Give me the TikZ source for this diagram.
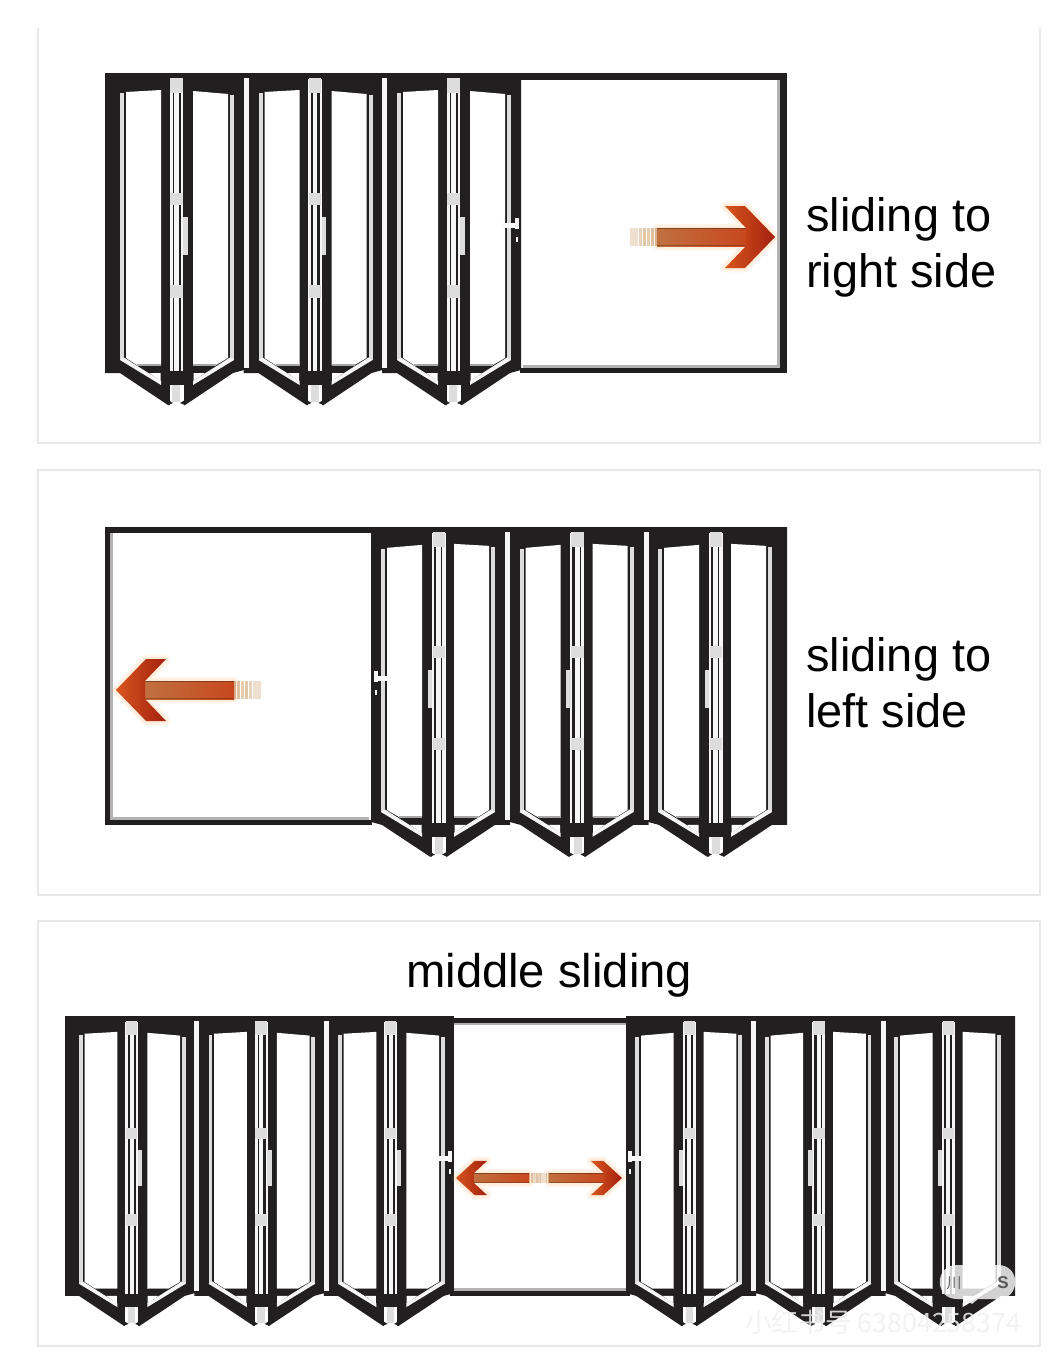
\documentclass[tikz,border=0pt]{standalone}
\usepackage{fontspec}
\setmainfont{Liberation Sans}
\newfontfamily\cjkwm{Noto Sans CJK SC}
\definecolor{frame}{HTML}{221F21}
\definecolor{panelline}{HTML}{E9E8E8}
\definecolor{strip}{HTML}{DDDDDD}
\definecolor{stripb}{HTML}{F6F6F6}
\definecolor{shaftA}{HTML}{C0703F}
\definecolor{shaftB}{HTML}{F08028}
\definecolor{shaftC}{HTML}{C8481E}
\definecolor{headA}{HTML}{D8551E}
\definecolor{headB}{HTML}{A3200F}
\definecolor{edgebrown}{HTML}{5E2A14}
\tikzset{
  panelrule/.style={draw=panelline,line width=1.2pt},
  darkfill/.style={fill=frame},
  glass/.style={fill=white},
  hingewhite/.style={fill=stripb},
  bigtext/.style={anchor=base west,inner sep=0pt,font=\fontsize{46.9}{56}\selectfont},
}
% one folded pair of leaves, local coordinates: width 139, height 300, V tip 332
\newcommand{\foldleaves}{%
  \fill[darkfill] (0,0) -- (139,0) -- (139,297) -- (128,300) -- (80,332) -- (63,332) -- (15,300) -- (0,300) -- cycle;
  % glass
  \fill[glass] (21,19) -- (56,17) -- (56,292) -- (32,292) -- (21,285) -- cycle;
  \fill[glass] (88,18) -- (123,21) -- (123,285) -- (111,292) -- (88,292) -- cycle;
  \fill[glass] (44,300) -- (55.5,300) -- (55.5,308) -- cycle;
  \fill[glass] (88.5,300) -- (100,300) -- (88.5,308) -- cycle;
  \fill[fill=black!35] (32,291) rectangle (56,293);
  \fill[fill=black!35] (88,291) rectangle (111,293);
  % glazing strips
  \fill[fill=strip] (15,20) rectangle (19,287);
  \fill[fill=strip] (125,22) rectangle (129,287);
  \fill[fill=stripb] (15,287) -- (19,284.5) -- (56,308) -- (56,312) -- cycle;
  \fill[fill=stripb] (129,287) -- (125,284.5) -- (88,308) -- (88,312) -- cycle;
  % hinge column
  \fill[hingewhite] (64.5,6) rectangle (67.7,298);
  \fill[hingewhite] (69,6) rectangle (73.7,298);
  \fill[hingewhite] (76.3,6) rectangle (78.3,298);
  \foreach \ya/\yb in {5/20,120/132,212/225}
    \fill[fill=strip] (65,\ya) rectangle (77.5,\yb);
  % white foot below the hinge bar
  \fill[fill=white] (64.5,312) -- (78.5,312) -- (78.5,332.5) -- (64.5,332.5) -- cycle;
  \fill[fill=strip] (67,312) rectangle (75,329);
  \fill[darkfill] (63,332) -- (68,330) -- (63,327) -- cycle;
  \fill[darkfill] (80,332) -- (75,330) -- (80,327) -- cycle;
  % slim pull handle
  \fill[fill=strip] (78,144) rectangle (82.5,182);
}
% the full three-pair group with separators and lever handle
\newcommand{\foldgroup}{%
  \foreach \k in {0,1,2}{%
    \begin{scope}[xshift=\k*138.5pt]\foldleaves\end{scope}}
  \foreach \sx in {138.5,277}
    \fill[fill=stripb] (\sx,5) rectangle (\sx+5,295);
  \fill[fill=stripb!70] (396,150) rectangle (410,155);
  \fill[fill=stripb] (409.5,145) rectangle (413.5,156);
  \fill[fill=white] (410.5,164) rectangle (412.5,169);
}
% arrow pointing +x with its tip at the local origin
\newcommand{\slidearrow}{%
  \foreach \w/\o in {9/.10,5/.14}
    \draw[draw=orange!60,opacity=\o,line width=\w pt,line join=round]
     (-30,-31) -- (-50,-31) -- (-29,-9) -- (-118,-9) -- (-118,9) -- (-29,9) -- (-50,31) -- (-30,31) -- (0,0) -- cycle;
  \foreach \a/\b/\c in {-145/-137/25,-136/-133/35,-132/-129/45,-128/-125/40,-124/-121/50,-120/-118/60}
    \fill[fill=brown!\c!white] (\a,-9) rectangle (\b,9);
  \shade[left color=shaftA,middle color=shaftB,right color=shaftC] (-118,-9) rectangle (-29,9);
  \fill[fill=edgebrown,opacity=.6] (-118,-9) rectangle (-29,-7.8);
  \fill[fill=edgebrown,opacity=.45] (-118,7.8) rectangle (-29,9);
  \shade[left color=headA,right color=headB]
     (-50,-31) -- (-30,-31) -- (0,0) -- (-30,31) -- (-50,31) -- (-29,9) -- (-29,-9) -- cycle;
}
\begin{document}
\begin{tikzpicture}[x=1pt,y=-1pt]
\useasboundingbox (0,0) rectangle (1060,1365);
\fill[white] (0,0) rectangle (1060,1365);
% panel rules
\coordinate (p1a) at (38,28); \coordinate (p1b) at (38,443); \coordinate (p1c) at (1040,443); \coordinate (p1d) at (1040,28);
\draw[panelrule] (p1a) -- (p1b) -- (p1c) -- (p1d);
\coordinate (p2a) at (38,470); \coordinate (p2c) at (1040,895);
\draw[panelrule] (p2a) rectangle (p2c);
\coordinate (p3a) at (38,921); \coordinate (p3c) at (1040,1346);
\draw[panelrule] (p3a) rectangle (p3c);

% ---- section 1: stack on the left, opening on the right
\begin{scope}[shift={(105,73)}]
  \fill[darkfill] (415,0) rectangle (682,7);
  \fill[darkfill] (675,0) rectangle (682,300);
  \fill[darkfill] (415,295) rectangle (682,300);
  \fill[fill=black!30] (418,292) rectangle (675,295);
  \fill[fill=black!30] (672,7) rectangle (675,295);
  \foldgroup
\end{scope}
\begin{scope}[shift={(775,237)}]\slidearrow\end{scope}

% ---- section 2: mirrored
\begin{scope}[shift={(787,527)},xscale=-1,yscale=.993]
  \fill[darkfill] (415,0) rectangle (682,6);
  \fill[darkfill] (677,0) rectangle (682,300);
  \fill[darkfill] (415,295) rectangle (682,300);
  \fill[fill=black!30] (418,292) rectangle (677,295);
  \fill[fill=black!30] (674,6) rectangle (677,295);
  \foldgroup
\end{scope}
\begin{scope}[shift={(116,690)},xscale=-1]\slidearrow\end{scope}

% ---- section 3: two stacks and a middle opening
\fill[darkfill] (450,1018) rectangle (630,1023);
\fill[darkfill] (450,1291) rectangle (630,1296);
\fill[fill=black!30] (450,1023) rectangle (630,1025);
\fill[fill=black!30] (450,1288) rectangle (630,1291);
\begin{scope}[shift={(65,1016)},xscale=.935,yscale=.933]\foldgroup\end{scope}
\begin{scope}[shift={(1015,1016)},xscale=-.935,yscale=.933]\foldgroup\end{scope}
\begin{scope}[shift={(622,1178)},xscale=.62,yscale=.55]\slidearrow\end{scope}
\begin{scope}[shift={(456,1178)},xscale=-.62,yscale=.55]\slidearrow\end{scope}

% ---- labels
\node[bigtext] (t1a) at (806,231) {sliding to};
\node[bigtext] (t1b) at (806,287) {right side};
\node[bigtext] (t2a) at (806,671) {sliding to};
\node[bigtext] (t2b) at (806,727) {left side};
\node[bigtext,font=\fontsize{47.2}{56}\selectfont] (t3) at (406,987) {middle sliding};

% ---- watermark
\fill[white,opacity=.8] (957,1265) -- (998,1265) .. controls (1021,1265) and (1021,1299) .. (998,1299)
   -- (978,1299) -- (972,1304) -- (966,1299) -- (957,1299) .. controls (934,1299) and (934,1265) .. (957,1265) -- cycle;
\node[inner sep=0pt,text=black!60,font=\cjkwm\fontsize{15}{15}\selectfont] (wm1) at (954,1283) {川};
\node[inner sep=0pt,text=black!65,font=\bfseries\fontsize{17}{17}\selectfont] (wm2) at (1003,1283) {S};
\node[anchor=west,inner sep=0pt,text=black!6,opacity=.85,font=\cjkwm\fontsize{26.7}{27}\selectfont] (wm3) at (745,1322) {小红书号 63804258374};
\end{tikzpicture}
\end{document}
